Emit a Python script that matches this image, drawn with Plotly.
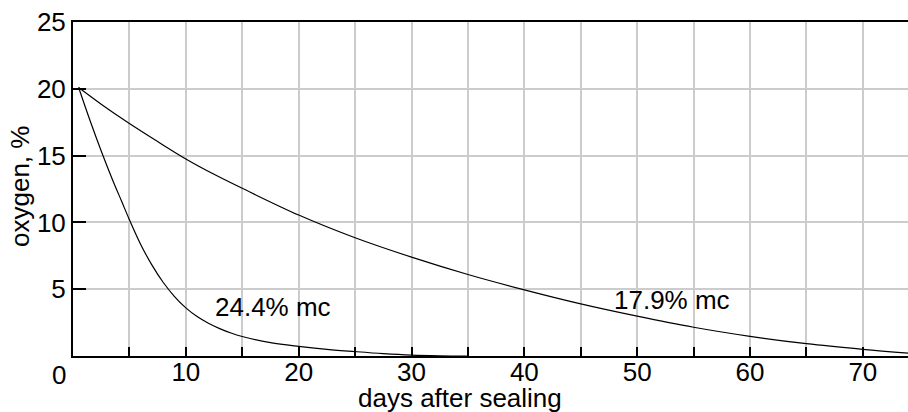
import plotly.graph_objects as go

# Oxygen decline in sealed grain at two moisture contents
days_179 = [0.5, 2.5, 5, 7.5, 10, 12.5, 15, 20, 25, 30, 35, 40, 45, 50, 55, 60, 65, 70, 74]
o2_179 = [20.1, 18.85, 17.4, 16.05, 14.75, 13.6, 12.55, 10.55, 8.85, 7.4, 6.1, 4.95,
          3.9, 2.98, 2.15, 1.47, 0.92, 0.5, 0.22]

days_244 = [0.5, 1.5, 2.5, 3.5, 4.3, 5, 6, 7, 8, 9, 10, 11, 12, 13, 14, 15,
            17.5, 20, 22.5, 25, 27.5, 30, 32.5, 35]
o2_244 = [20.1, 17.65, 15.35, 13.2, 11.6, 10.2, 8.35, 6.8, 5.5, 4.45, 3.6, 2.95,
          2.45, 2.05, 1.72, 1.46, 1.0, 0.72, 0.5, 0.33, 0.18, 0.07, 0.02, 0.0]

x_major = [10, 20, 30, 40, 50, 60, 70]
x_minor = [5, 15, 25, 35, 45, 55, 65]
y_ticks = [5, 10, 15, 20, 25]

FONT = "Liberation Sans, Arial, sans-serif"
GRID = "#cccccc"

fig = go.Figure()
for xs, ys in ((days_179, o2_179), (days_244, o2_244)):
    fig.add_trace(go.Scatter(x=xs, y=ys, mode="lines",
                             line=dict(color="black", width=1.2, shape="spline", smoothing=1.0),
                             hoverinfo="skip", showlegend=False))

# Plot-area size in pixels, used to place the axis titles
L, R, T, B = 73, 0, 22, 56
pw, ph = 908 - L - R, 412 - T - B

fig.update_layout(
    width=908, height=412,
    margin=dict(l=L, r=R, t=T, b=B),
    paper_bgcolor="white", plot_bgcolor="white",
    font=dict(family=FONT, size=26, color="black"),
    xaxis=dict(
        range=[0, 74], tickvals=x_major, ticks="inside", ticklen=9, tickwidth=1.5,
        tickcolor="black", showgrid=True, gridcolor=GRID, gridwidth=1.6,
        showline=True, linecolor="black", linewidth=2, mirror=True,
        zeroline=False, tickfont=dict(size=26), ticklabelstandoff=-8,
        minor=dict(tickvals=x_minor, ticks="inside", ticklen=9, tickwidth=1.5,
                   tickcolor="black", showgrid=True, gridcolor=GRID, gridwidth=1.6),
    ),
    yaxis=dict(
        range=[0, 25], tickvals=y_ticks, ticks="inside", ticklen=13, tickwidth=1.5,
        tickcolor="black", showgrid=True, gridcolor=GRID, gridwidth=1.6,
        showline=True, linecolor="black", linewidth=2, mirror=False,
        zeroline=False, tickfont=dict(size=26),
    ),
    annotations=[
        dict(x=0, y=0, xref="x", yref="y", text="0", showarrow=False,
             xshift=-14, yshift=-19, font=dict(size=26)),
        dict(x=17.7, y=3.83, xref="x", yref="y", text="24.4% mc", showarrow=False,
             yshift=-2, font=dict(size=26)),
        dict(x=53.1, y=4.31, xref="x", yref="y", text="17.9% mc", showarrow=False,
             yshift=-2, font=dict(size=26)),
        dict(x=(460 - L) / pw, y=(356 - 398) / ph, xref="paper", yref="paper",
             yanchor="middle", text="days after sealing", showarrow=False,
             font=dict(size=26)),
        dict(x=(20 - L) / pw, y=(356 - 187) / ph, xref="paper", yref="paper",
             xanchor="center", text="oxygen, %", textangle=-90, showarrow=False,
             font=dict(size=26)),
    ],
)

fig.write_html("out.html")
